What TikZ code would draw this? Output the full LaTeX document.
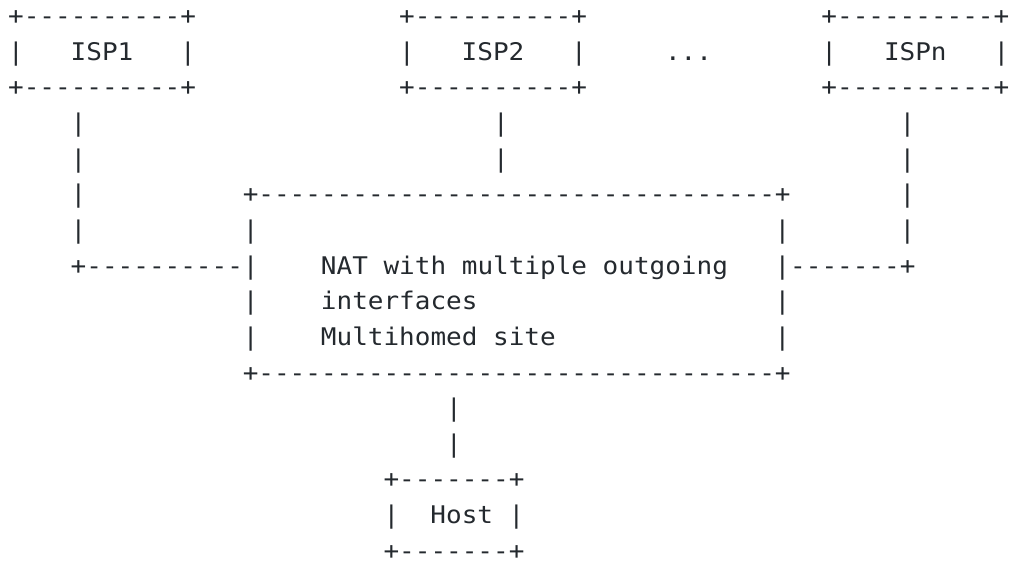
\documentclass[tikz,border=0pt]{standalone}
\usepackage{fontspec}
\newfontfamily\ascfont{DejaVu Sans Mono}[Ligatures=TeXOff,FakeStretch=1.07]
\definecolor{ink}{RGB}{36,41,46}
\tikzset{seg/.style={anchor=base west,inner sep=0pt,outer sep=0pt,text=ink,font=\ascfont\fontsize{24.3pt}{30pt}\selectfont}}
\newcommand\putseg[4]{\node[seg] (#1) at ({8.18+15.64*#2},{-24.5-35.65*#3}) {#4};}
\begin{document}
\begin{tikzpicture}[x=1pt,y=1pt]
\useasboundingbox (0,0) rectangle (1010,-560);
% row 0
\putseg{isp1top}{0}{0}{+----------+}
\putseg{isp2top}{25}{0}{+----------+}
\putseg{ispntop}{52}{0}{+----------+}
% row 1
\putseg{isp1l}{0}{1}{|}
\putseg{isp1}{4}{1}{ISP1}
\putseg{isp1r}{11}{1}{|}
\putseg{isp2l}{25}{1}{|}
\putseg{isp2}{29}{1}{ISP2}
\putseg{isp2r}{36}{1}{|}
\putseg{dots}{42}{1}{...}
\putseg{ispnl}{52}{1}{|}
\putseg{ispn}{56}{1}{ISPn}
\putseg{ispnr}{63}{1}{|}
% row 2
\putseg{isp1bot}{0}{2}{+----------+}
\putseg{isp2bot}{25}{2}{+----------+}
\putseg{ispnbot}{52}{2}{+----------+}
% rows 3-4
\putseg{va3}{4}{3}{|}
\putseg{vb3}{31}{3}{|}
\putseg{vc3}{57}{3}{|}
\putseg{va4}{4}{4}{|}
\putseg{vb4}{31}{4}{|}
\putseg{vc4}{57}{4}{|}
% row 5
\putseg{va5}{4}{5}{|}
\putseg{nattop}{15}{5}{+---------------------------------+}
\putseg{vc5}{57}{5}{|}
% row 6
\putseg{va6}{4}{6}{|}
\putseg{natl6}{15}{6}{|}
\putseg{natr6}{49}{6}{|}
\putseg{vc6}{57}{6}{|}
% row 7
\putseg{linkl}{4}{7}{+----------|}
\putseg{nat1}{20}{7}{NAT with multiple outgoing}
\putseg{linkr}{49}{7}{|-------+}
% row 8
\putseg{natl8}{15}{8}{|}
\putseg{nat2}{20}{8}{interfaces}
\putseg{natr8}{49}{8}{|}
% row 9
\putseg{natl9}{15}{9}{|}
\putseg{nat3}{20}{9}{Multihomed site}
\putseg{natr9}{49}{9}{|}
% row 10
\putseg{natbot}{15}{10}{+---------------------------------+}
% rows 11-12
\putseg{vh11}{28}{11}{|}
\putseg{vh12}{28}{12}{|}
% rows 13-15
\putseg{hosttop}{24}{13}{+-------+}
\putseg{hostl}{24}{14}{|}
\putseg{host}{27}{14}{Host}
\putseg{hostr}{32}{14}{|}
\putseg{hostbot}{24}{15}{+-------+}
\end{tikzpicture}
\end{document}
